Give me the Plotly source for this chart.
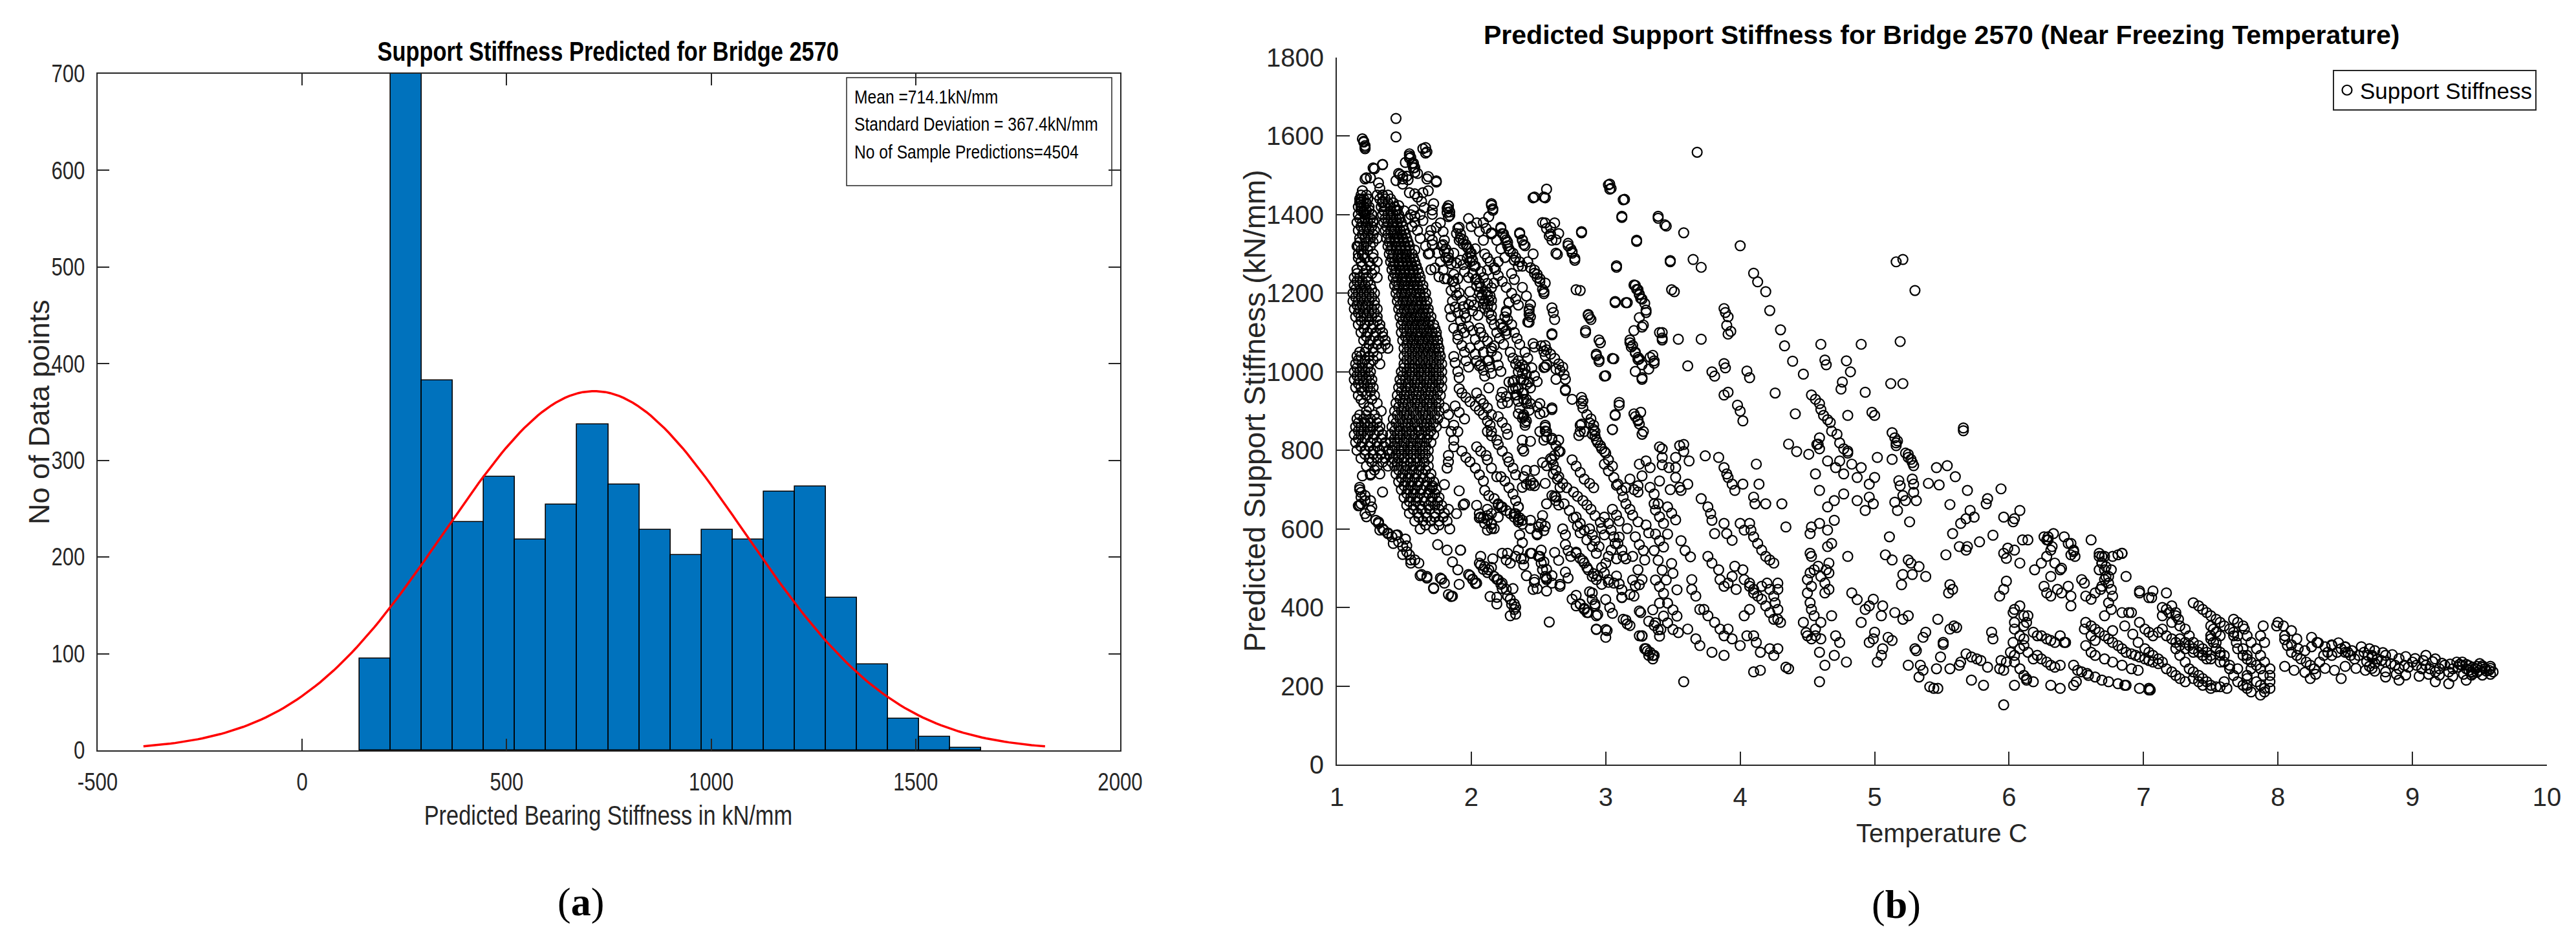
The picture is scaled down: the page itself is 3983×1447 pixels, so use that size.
import numpy as np
import plotly.graph_objects as go

W, H = 3983, 1447
SANS = "Liberation Sans, Arial, sans-serif"
SERIF = "Liberation Serif, DejaVu Serif, serif"
AX = "#262626"

# ---------------- histogram data (panel a) ----------------
hist_bin_start = 140.5
hist_bin_width = 76.0
hist_counts = [95, 709, 383, 236, 283, 218, 254, 337, 275, 228, 202, 228, 218, 268, 273, 158, 89, 33, 14, 3]
fit_mean = 714.1
fit_sd = 367.4
n_samples = 4504
hist_xticks = [-500, 0, 500, 1000, 1500, 2000]
hist_xticklabels = ["-500", "0", "500", "1000", "1500", "2000"]
hist_yticks = [0, 100, 200, 300, 400, 500, 600, 700]
stats_lines = ["Mean =714.1kN/mm", "Standard Deviation = 367.4kN/mm", "No of Sample Predictions=4504"]

# ---------------- scatter data (panel b): (temperature C, stiffness kN/mm) ----------------
dense_rows = [
    (1450, [1.18, 1.22, 1.30, 1.34, 1.38]),
    (1440, [1.17, 1.20, 1.23, 1.32, 1.36, 1.40]),
    (1430, [1.18, 1.22, 1.34, 1.38, 1.42]),
    (1420, [1.16, 1.20, 1.24, 1.33, 1.36, 1.40, 1.43]),
    (1410, [1.18, 1.22, 1.35, 1.40, 1.44, 1.50]),
    (1400, [1.16, 1.21, 1.26, 1.34, 1.38, 1.42, 1.46, 1.55, 1.62]),
    (1390, [1.17, 1.21, 1.25, 1.36, 1.40, 1.44, 1.47, 1.53]),
    (1380, [1.15, 1.19, 1.23, 1.27, 1.35, 1.38, 1.42, 1.45, 1.48, 1.58]),
    (1370, [1.18, 1.22, 1.26, 1.37, 1.41, 1.45, 1.49, 1.56]),
    (1360, [1.16, 1.20, 1.24, 1.28, 1.36, 1.40, 1.43, 1.47, 1.50, 1.60, 1.70]),
    (1350, [1.19, 1.23, 1.27, 1.38, 1.42, 1.45, 1.48, 1.51]),
    (1340, [1.17, 1.21, 1.25, 1.30, 1.37, 1.40, 1.43, 1.46, 1.49, 1.52, 1.62]),
    (1330, [1.17, 1.22, 1.27, 1.39, 1.43, 1.46, 1.50, 1.53]),
    (1320, [1.15, 1.20, 1.25, 1.38, 1.41, 1.44, 1.48, 1.51, 1.54, 1.66]),
    (1310, [1.18, 1.23, 1.40, 1.44, 1.47, 1.51, 1.54, 1.58]),
    (1300, [1.16, 1.20, 1.27, 1.39, 1.42, 1.46, 1.49, 1.52, 1.56, 1.68]),
    (1290, [1.16, 1.21, 1.27, 1.41, 1.45, 1.48, 1.51, 1.54, 1.57]),
    (1280, [1.18, 1.24, 1.30, 1.40, 1.43, 1.46, 1.49, 1.52, 1.55, 1.58]),
    (1270, [1.19, 1.25, 1.42, 1.46, 1.49, 1.53, 1.56, 1.59]),
    (1260, [1.15, 1.22, 1.28, 1.41, 1.44, 1.47, 1.51, 1.54, 1.57, 1.60, 1.70]),
    (1250, [1.15, 1.20, 1.26, 1.43, 1.47, 1.50, 1.54, 1.57, 1.61]),
    (1240, [1.13, 1.17, 1.22, 1.30, 1.42, 1.45, 1.49, 1.52, 1.55, 1.59, 1.62]),
    (1230, [1.15, 1.19, 1.23, 1.44, 1.48, 1.51, 1.55, 1.58, 1.62]),
    (1220, [1.13, 1.17, 1.21, 1.25, 1.43, 1.46, 1.50, 1.53, 1.57, 1.60, 1.64]),
    (1210, [1.14, 1.18, 1.22, 1.26, 1.45, 1.49, 1.53, 1.57, 1.61, 1.64]),
    (1200, [1.12, 1.16, 1.20, 1.24, 1.28, 1.44, 1.48, 1.51, 1.55, 1.59, 1.62, 1.66]),
    (1190, [1.14, 1.18, 1.22, 1.26, 1.46, 1.50, 1.54, 1.58, 1.62, 1.65]),
    (1180, [1.12, 1.16, 1.20, 1.24, 1.28, 1.45, 1.49, 1.52, 1.56, 1.60, 1.63, 1.67]),
    (1170, [1.15, 1.19, 1.23, 1.28, 1.47, 1.51, 1.55, 1.59, 1.63, 1.66]),
    (1160, [1.13, 1.17, 1.21, 1.26, 1.30, 1.46, 1.50, 1.54, 1.57, 1.61, 1.65, 1.68]),
    (1150, [1.16, 1.20, 1.24, 1.28, 1.48, 1.52, 1.56, 1.60, 1.64, 1.68]),
    (1140, [1.14, 1.18, 1.22, 1.26, 1.30, 1.47, 1.51, 1.55, 1.59, 1.62, 1.66, 1.70]),
    (1130, [1.18, 1.24, 1.30, 1.49, 1.53, 1.57, 1.61, 1.65, 1.69]),
    (1120, [1.16, 1.21, 1.27, 1.32, 1.48, 1.52, 1.56, 1.60, 1.64, 1.68, 1.72]),
    (1110, [1.20, 1.26, 1.32, 1.50, 1.54, 1.58, 1.62, 1.65, 1.69, 1.73]),
    (1100, [1.18, 1.23, 1.29, 1.34, 1.48, 1.52, 1.56, 1.60, 1.63, 1.67, 1.71, 1.74]),
    (1090, [1.22, 1.28, 1.34, 1.51, 1.55, 1.59, 1.62, 1.66, 1.70, 1.74]),
    (1080, [1.20, 1.25, 1.31, 1.36, 1.49, 1.53, 1.57, 1.61, 1.64, 1.68, 1.72, 1.75]),
    (1070, [1.24, 1.30, 1.36, 1.52, 1.56, 1.59, 1.63, 1.67, 1.71, 1.75]),
    (1060, [1.22, 1.27, 1.33, 1.38, 1.50, 1.54, 1.58, 1.61, 1.65, 1.69, 1.73, 1.76]),
    (1050, [1.17, 1.21, 1.27, 1.52, 1.56, 1.60, 1.64, 1.68, 1.72, 1.76]),
    (1040, [1.15, 1.18, 1.24, 1.30, 1.50, 1.54, 1.58, 1.62, 1.66, 1.70, 1.74, 1.77]),
    (1030, [1.16, 1.21, 1.27, 1.52, 1.56, 1.60, 1.64, 1.68, 1.72, 1.76]),
    (1020, [1.14, 1.19, 1.24, 1.32, 1.50, 1.54, 1.58, 1.62, 1.66, 1.70, 1.74, 1.78]),
    (1010, [1.15, 1.19, 1.23, 1.50, 1.54, 1.58, 1.63, 1.67, 1.72, 1.76]),
    (1000, [1.13, 1.17, 1.21, 1.25, 1.48, 1.52, 1.56, 1.61, 1.65, 1.69, 1.74, 1.78]),
    (990, [1.15, 1.19, 1.24, 1.49, 1.54, 1.58, 1.63, 1.67, 1.72, 1.76]),
    (980, [1.13, 1.17, 1.22, 1.26, 1.47, 1.51, 1.56, 1.60, 1.65, 1.69, 1.74, 1.78]),
    (970, [1.16, 1.20, 1.25, 1.48, 1.53, 1.58, 1.62, 1.67, 1.71, 1.76]),
    (960, [1.14, 1.18, 1.23, 1.27, 1.46, 1.51, 1.55, 1.60, 1.64, 1.69, 1.73, 1.78]),
    (950, [1.19, 1.25, 1.48, 1.52, 1.57, 1.61, 1.66, 1.70, 1.75]),
    (940, [1.16, 1.22, 1.28, 1.45, 1.50, 1.54, 1.59, 1.63, 1.68, 1.72, 1.77]),
    (930, [1.18, 1.26, 1.47, 1.51, 1.56, 1.60, 1.65, 1.69, 1.74]),
    (920, [1.20, 1.30, 1.44, 1.49, 1.53, 1.58, 1.62, 1.67, 1.71, 1.76]),
    (910, [1.24, 1.46, 1.50, 1.55, 1.60, 1.64, 1.69, 1.74]),
    (900, [1.22, 1.33, 1.43, 1.48, 1.52, 1.57, 1.62, 1.66, 1.71, 1.76]),
    (890, [1.17, 1.22, 1.28, 1.45, 1.50, 1.54, 1.59, 1.64, 1.68, 1.73]),
    (880, [1.15, 1.20, 1.25, 1.30, 1.42, 1.47, 1.52, 1.56, 1.61, 1.66, 1.70, 1.75]),
    (870, [1.16, 1.21, 1.25, 1.30, 1.44, 1.49, 1.53, 1.58, 1.63, 1.67, 1.72]),
    (860, [1.14, 1.18, 1.23, 1.27, 1.32, 1.41, 1.46, 1.51, 1.55, 1.60, 1.65, 1.69, 1.74]),
    (850, [1.16, 1.20, 1.25, 1.31, 1.43, 1.47, 1.52, 1.56, 1.61, 1.66, 1.70]),
    (840, [1.13, 1.18, 1.23, 1.28, 1.34, 1.40, 1.45, 1.49, 1.54, 1.58, 1.63, 1.68, 1.72]),
    (830, [1.16, 1.21, 1.27, 1.33, 1.43, 1.47, 1.52, 1.57, 1.62, 1.67]),
    (820, [1.14, 1.19, 1.25, 1.30, 1.36, 1.40, 1.45, 1.50, 1.55, 1.60, 1.65, 1.70]),
    (810, [1.18, 1.24, 1.30, 1.35, 1.43, 1.48, 1.53, 1.57, 1.62, 1.66]),
    (800, [1.15, 1.21, 1.27, 1.32, 1.38, 1.41, 1.46, 1.50, 1.55, 1.59, 1.64, 1.68]),
    (790, [1.21, 1.27, 1.33, 1.39, 1.44, 1.48, 1.53, 1.57, 1.62, 1.66]),
    (780, [1.18, 1.24, 1.30, 1.36, 1.42, 1.46, 1.50, 1.55, 1.59, 1.64, 1.68]),
    (770, [1.26, 1.34, 1.41, 1.45, 1.50, 1.55, 1.60, 1.65]),
    (760, [1.22, 1.30, 1.38, 1.43, 1.48, 1.52, 1.57, 1.62, 1.68]),
    (750, [1.28, 1.46, 1.51, 1.56, 1.61, 1.66]),
    (740, [1.25, 1.32, 1.44, 1.49, 1.54, 1.59, 1.64, 1.70]),
    (730, [1.48, 1.53, 1.58, 1.64, 1.69]),
    (720, [1.46, 1.51, 1.56, 1.61, 1.67, 1.72]),
    (710, [1.50, 1.55, 1.60, 1.66, 1.71]),
    (700, [1.48, 1.53, 1.58, 1.63, 1.69, 1.74]),
    (690, [1.52, 1.57, 1.62, 1.68, 1.73]),
    (680, [1.50, 1.55, 1.60, 1.65, 1.71, 1.76]),
    (670, [1.54, 1.59, 1.65, 1.70, 1.75]),
    (660, [1.52, 1.57, 1.62, 1.68, 1.73, 1.78]),
    (650, [1.57, 1.63, 1.69, 1.76]),
    (640, [1.54, 1.60, 1.66, 1.73, 1.80]),
    (630, [1.61, 1.67, 1.73, 1.79]),
    (620, [1.58, 1.64, 1.70, 1.76, 1.82]),
    (610, [1.66, 1.76]),
    (600, [1.62, 1.72, 1.84]),
]

pts_upper_left = [
    (1.44, 1645), (1.44, 1598), (1.19, 1593), (1.20, 1585), (1.21, 1576), (1.21, 1568), (1.66, 1571), (1.67, 1560),
    (1.54, 1555), (1.54, 1544), (1.56, 1530), (1.57, 1519), (1.58, 1508), (1.51, 1533), (1.47, 1502), (1.49, 1491),
    (1.53, 1489), (1.49, 1478), (1.34, 1527), (1.27, 1519), (1.22, 1494), (1.25, 1494), (1.68, 1497), (1.74, 1486),
    (1.31, 1481), (1.32, 1467), (1.34, 1450), (1.34, 1434), (1.19, 1461), (1.18, 1439), (1.18, 1423), (1.20, 1407),
    (1.21, 1390), (1.22, 1428), (1.24, 1412), (1.26, 1401), (1.27, 1385), (1.54, 1456), (1.58, 1453), (1.60, 1445),
    (1.64, 1456), (1.68, 1461), (1.63, 1434), (1.65, 1418), (1.72, 1428), (1.71, 1412), (1.71, 1401), (1.74, 1368),
    (1.57, 1412), (1.58, 1396), (1.46, 1423), (1.45, 1412), (1.64, 1385), (1.83, 1423), (1.83, 1415), (1.84, 1407),
    (1.84, 1398), (1.91, 1368), (1.89, 1352), (1.91, 1335), (1.69, 1346), (1.71, 1335), (1.71, 1324), (1.69, 1302),
    (1.79, 1324), (1.81, 1313), (1.83, 1302), (1.83, 1291), (1.85, 1275), (1.87, 1302), (1.89, 1277), (1.96, 1324),
    (1.98, 1313), (1.99, 1302), (2.00, 1291), (1.99, 1280), (2.02, 1269), (2.03, 1313), (1.73, 1264), (1.76, 1242),
    (1.80, 1237), (1.82, 1237), (1.85, 1207), (1.90, 1237), (1.91, 1201), (1.77, 1379), (1.79, 1357), (1.80, 1335),
    (1.75, 1302), (1.77, 1280), (1.79, 1259), (1.87, 1248), (1.87, 1231), (1.88, 1215), (1.93, 1182), (1.94, 1166),
    (1.95, 1149), (1.96, 1138), (1.16, 1319), (1.19, 1297),
    (1.86, 1180), (1.88, 1165), (1.90, 1150), (1.92, 1130), (1.85, 1140), (1.84, 1160), (1.86, 1230), (1.89, 1195),
]

pts_second_band = [
    (2.04, 1237), (2.06, 1226), (2.07, 1215), (2.11, 1204), (2.12, 1259), (2.17, 1226), (2.14, 1193), (2.15, 1182),
    (2.12, 1166), (1.99, 1204), (1.98, 1171), (2.01, 1155), (2.05, 1144), (2.15, 1144), (2.15, 1133), (2.15, 1428),
    (2.16, 1415), (2.22, 1368), (2.23, 1352), (2.25, 1341), (2.27, 1330), (2.28, 1313), (2.31, 1302), (2.33, 1291),
    (2.36, 1280), (2.38, 1269), (2.15, 1354), (2.36, 1354), (2.38, 1335), (2.39, 1324), (2.47, 1259), (2.49, 1248),
    (2.51, 1237), (2.55, 1226), (2.54, 1204), (2.28, 1176), (2.26, 1155), (2.25, 1140), (2.22, 1122), (2.23, 1111),
    (2.26, 1105), (2.06, 1111), (2.07, 1100), (2.09, 1089), (2.12, 1078), (2.15, 1061), (2.19, 1039), (2.20, 1017),
    (2.22, 1001), (1.99, 1061), (2.03, 1045), (2.04, 1028), (2.06, 1015), (1.93, 1111), (1.95, 1100), (1.87, 1111),
    (1.90, 1094), (2.35, 1028), (2.36, 1012), (2.38, 996), (2.39, 979), (2.41, 968), (2.39, 946), (2.41, 930),
    (2.44, 919), (2.28, 974), (2.31, 957), (2.33, 941), (2.35, 925), (2.36, 908), (2.22, 935), (2.23, 919),
    (2.51, 919), (2.54, 897), (2.60, 908), (2.39, 891), (2.41, 875), (2.40, 864), (2.55, 864), (2.56, 848),
    (1.96, 1138), (1.98, 1116), (2.01, 1105), (2.03, 1083), (2.06, 1067), (2.09, 1050), (2.12, 1028), (2.14, 1012),
    (2.15, 996), (1.90, 1083), (1.93, 1067), (1.95, 1050), (1.96, 1028), (1.98, 1012), (1.87, 1039), (1.88, 1023),
    (1.90, 1001), (1.91, 985), (1.91, 957), (1.93, 946), (1.96, 935), (1.99, 924), (2.03, 913), (2.06, 902),
    (2.09, 891), (2.12, 875), (2.14, 864), (2.15, 848), (2.04, 946), (2.07, 930), (2.09, 919), (2.12, 908),
    (2.15, 891), (2.31, 974), (2.35, 957), (2.38, 946), (2.39, 930), (2.41, 919), (2.43, 902), (2.39, 886),
    (1.88, 913), (1.91, 897), (1.95, 880), (1.80, 908), (1.83, 891), (1.87, 864), (1.90, 848), (2.04, 1379),
    (2.06, 1357), (2.09, 1335), (2.19, 1335), (2.22, 1313), (2.25, 1291), (2.38, 1215), (2.41, 1193), (2.44, 1171),
    (2.43, 1160), (2.43, 1146), (2.42, 1127), (2.46, 1072), (2.15, 1424), (2.16, 1411), (2.15, 1351), (2.22, 1365),
    (2.24, 1351), (2.26, 1336), (2.27, 1321), (2.29, 1306), (2.32, 1284), (2.35, 1269), (2.36, 1351), (2.38, 1336),
    (2.40, 1321), (2.04, 1218), (2.06, 1203), (2.07, 1188), (2.09, 1174), (2.10, 1162), (2.07, 1255), (2.09, 1240),
    (2.12, 1225), (2.15, 1214), (2.12, 1196), (2.13, 1181), (2.15, 1166), (1.97, 1317), (2.00, 1302), (2.01, 1284),
    (2.03, 1269), (1.92, 1284), (1.94, 1273), (1.82, 1417), (1.82, 1406), (1.83, 1395), (1.90, 1365), (1.92, 1351),
    (1.94, 1336), (1.78, 1321), (1.80, 1306), (1.81, 1291), (1.83, 1284), (1.74, 1483), (1.67, 1491), (1.64, 1568),
    (1.66, 1557), (1.55, 1546), (1.57, 1531), (1.58, 1520), (1.60, 1505), (1.54, 1550), (1.49, 1498), (1.52, 1498),
    (1.46, 1505), (1.44, 1487), (1.20, 1587), (1.21, 1572), (1.34, 1528), (1.28, 1517), (1.21, 1491), (1.17, 1432),
    (1.18, 1417), (1.20, 1406), (2.26, 1151), (2.27, 1133), (2.28, 1177), (2.24, 1114), (2.26, 1096), (2.38, 1018),
    (2.40, 1007), (2.41, 993), (2.43, 974), (2.44, 959), (2.35, 1000), (2.37, 981), (2.32, 978), (2.33, 959),
    (2.34, 941), (2.23, 948), (2.26, 937), (2.27, 922), (2.13, 959), (2.35, 893), (2.38, 882), (2.40, 871),
    (2.49, 911), (2.51, 893), (2.60, 904), (2.55, 849), (2.56, 834), (2.60, 827), (2.63, 812), (2.66, 797),
    (2.44, 823), (2.38, 804), (2.20, 886), (2.23, 871), (2.26, 856), (2.27, 841), (2.07, 1018), (2.09, 1004),
    (2.10, 989), (2.13, 1029), (2.15, 1052), (2.17, 1066),
    (1.92, 1340), (1.94, 1325), (1.97, 1290), (2.01, 1250), (2.03, 1235), (2.08, 1195), (2.10, 1180), (2.13, 1150),
    (2.17, 1120), (2.19, 1100), (2.21, 1085), (2.24, 1070), (2.29, 1050), (2.31, 1035), (2.33, 1020), (2.30, 1120),
    (2.32, 1100), (2.34, 1085), (2.36, 1070), (2.40, 1050), (2.42, 1035), (2.45, 1010), (2.47, 990), (2.49, 975),
    (2.18, 1260), (2.20, 1245), (2.23, 1230), (2.26, 1215), (2.30, 1200), (2.33, 1185), (2.35, 1170), (2.30, 1250),
    (2.32, 1235), (2.42, 1280), (2.44, 1265), (2.46, 1300), (2.00, 1180), (2.02, 1170), (1.98, 1240), (1.95, 1255),
    (2.10, 1300), (2.12, 1290), (2.14, 1280), (2.17, 1265), (2.20, 1280), (2.09, 1380), (2.11, 1365), (2.13, 1395),
    (1.98, 1390), (2.00, 1370),
]

pts_upper_mid = [
    (2.46, 1443), (2.55, 1443), (2.56, 1465), (2.53, 1380), (2.56, 1365), (2.59, 1351), (2.63, 1336), (2.64, 1299),
    (2.72, 1321), (2.75, 1306), (2.77, 1284), (2.82, 1354), (3.02, 1476), (3.03, 1465), (3.13, 1438), (3.12, 1393),
    (3.23, 1332), (3.08, 1266), (3.39, 1391), (3.45, 1371), (3.58, 1354), (3.48, 1280), (3.65, 1286), (3.71, 1266),
    (3.68, 1559), (4.00, 1321), (4.10, 1251), (4.13, 1229), (4.19, 1204), (4.22, 1156), (4.30, 1107), (4.33, 1066),
    (4.39, 1027), (4.47, 994), (4.26, 946), (4.41, 893), (3.51, 1204), (3.54, 1083), (3.71, 1083), (3.61, 1015),
    (3.42, 1100), (3.42, 1081), (3.88, 1161), (3.89, 1151), (3.91, 1140), (3.90, 1118), (3.93, 1103), (3.91, 1096),
    (3.88, 1021), (3.89, 1010), (3.88, 941), (3.91, 948), (3.98, 915), (4.00, 900), (4.02, 875), (4.05, 1002),
    (4.07, 985), (3.79, 1000), (3.81, 989), (4.60, 1070), (4.63, 1030), (4.64, 1018), (4.79, 1028), (4.82, 1000),
    (4.90, 1070), (4.76, 974), (4.75, 956), (4.93, 948), (4.98, 897), (5.00, 889), (4.53, 941), (4.56, 930),
    (4.59, 919), (4.60, 904), (4.62, 889), (4.65, 878), (4.67, 871), (4.68, 849), (4.72, 841), (4.74, 819),
    (4.77, 804), (4.80, 793), (4.58, 816), (4.59, 804), (4.36, 816), (4.42, 797), (4.80, 889), (3.55, 812),
    (3.58, 797), (3.42, 804), (2.81, 1207), (2.87, 1144), (2.89, 1133), (2.85, 1100), (2.95, 1081), (2.96, 1074),
    (2.93, 1041), (2.95, 1026), (3.06, 1033), (2.99, 989), (3.07, 1176), (3.15, 1176), (3.21, 1221), (3.23, 1210),
    (3.25, 1196), (3.27, 1185), (3.29, 1174), (3.30, 1151), (3.27, 1114), (3.18, 1074), (3.19, 1063), (3.22, 1048),
    (3.25, 1033), (3.27, 1018), (3.27, 981), (3.33, 1037), (3.36, 1022), (3.10, 915), (3.07, 889), (3.21, 893),
    (3.24, 878), (3.25, 867), (3.27, 841), (2.90, 841), (2.93, 827), (2.96, 812), (2.99, 797), (2.83, 926),
    (2.83, 908), (2.80, 838), (2.70, 952), (2.47, 1063), (2.52, 1066), (2.54, 1052), (2.55, 1041), (2.60, 1163),
    (2.61, 1151), (2.62, 1133), (2.60, 1094), (2.54, 1011), (2.56, 1018), (2.63, 1007), (2.66, 1004), (2.69, 993),
    (2.70, 981), (2.63, 981), (2.47, 1251), (2.49, 1240), (2.51, 1229), (2.53, 1210), (2.54, 1199), (2.43, 1155),
    (2.44, 1140), (2.43, 1126), (2.47, 1445), (2.54, 1445), (2.55, 1379), (2.59, 1368), (2.62, 1379), (2.65, 1352),
    (2.60, 1335), (2.58, 1346), (2.63, 1302), (2.72, 1327), (2.74, 1313), (2.75, 1302), (2.77, 1289), (2.82, 1357),
    (2.78, 1209), (3.03, 1478), (3.04, 1467), (3.14, 1439), (3.12, 1396), (3.23, 1335), (3.08, 1270), (3.39, 1396),
    (3.44, 1374), (3.48, 1283), (3.49, 1209), (3.22, 1220), (3.24, 1209), (3.25, 1198), (3.26, 1187), (3.07, 1179),
    (3.16, 1176), (3.30, 1157), (3.25, 1138), (3.28, 1119), (3.21, 1105), (3.18, 1081), (3.20, 1067), (3.22, 1050),
    (3.24, 1037), (3.24, 1031), (3.40, 1100), (3.42, 1086), (3.35, 1042), (3.36, 1028), (3.32, 1007), (3.22, 1001),
    (3.27, 985), (2.87, 1146), (2.88, 1138), (2.85, 1105), (2.93, 1045), (2.95, 1031), (3.05, 1034), (3.00, 990),
    (2.55, 1067), (2.56, 1056), (2.59, 1045), (2.62, 1034), (2.65, 1020), (2.68, 1012), (2.55, 1012), (2.60, 1097),
    (2.70, 955), (2.75, 930), (2.82, 935), (2.82, 919), (2.86, 891), (2.89, 880), (2.91, 864), (2.92, 848),
    (2.82, 867), (2.81, 848), (3.07, 891), (3.10, 922), (3.05, 853), (3.22, 886), (3.24, 875), (3.26, 897),
    (3.28, 848), (5.16, 1280), (5.21, 1286), (5.30, 1207), (5.19, 1077), (5.12, 970), (5.21, 970), (5.66, 850),
    (5.13, 845), (5.16, 819), (5.16, 812), (5.23, 793), (5.25, 782),
]

pts_lower_left = [
    (1.19, 735), (1.25, 737), (1.17, 700), (1.18, 681), (1.16, 659), (1.21, 672), (1.26, 656), (1.22, 631),
    (1.31, 618), (1.34, 601), (1.38, 590), (1.42, 563), (1.45, 585), (1.49, 535), (1.51, 574), (1.52, 557),
    (1.55, 513), (1.62, 481), (1.67, 475), (1.72, 448), (1.78, 472), (1.85, 428), (1.75, 560), (1.82, 546),
    (1.86, 516), (1.92, 546), (1.83, 650), (1.89, 639), (1.94, 661), (1.91, 697), (1.80, 713), (1.71, 705),
    (1.34, 694), (1.91, 459), (1.99, 481), (2.01, 472), (2.03, 461), (2.07, 508), (2.09, 497), (2.12, 489),
    (2.15, 502), (2.16, 524), (2.19, 472), (2.22, 459), (2.23, 448), (2.19, 426), (2.19, 409), (2.14, 428),
    (2.31, 448), (2.32, 409), (2.33, 401), (2.29, 379), (2.06, 628), (2.12, 634), (2.15, 612), (2.15, 601),
    (2.58, 363), (2.36, 628), (2.38, 612), (2.36, 585), (2.38, 565), (2.35, 546), (2.37, 524), (2.39, 508),
    (2.41, 481), (2.44, 601), (2.49, 585), (2.54, 596), (2.55, 607), (2.53, 634), (2.45, 538), (2.51, 530),
    (2.54, 516), (2.56, 497), (2.56, 475), (2.60, 481), (2.66, 459), (2.47, 464), (2.49, 448), (2.56, 442),
    (2.27, 538), (2.33, 530), (2.39, 524), (2.33, 639), (2.35, 623), (2.60, 831), (2.65, 826), (2.65, 798),
    (2.62, 787), (2.60, 776), (2.54, 826), (2.55, 859), (2.51, 848), (2.59, 779), (2.61, 763), (2.63, 749),
    (2.65, 733), (2.68, 716), (2.71, 705), (2.76, 694), (2.79, 683), (2.83, 672), (2.86, 661), (2.89, 650),
    (2.92, 634), (2.96, 617), (2.97, 601), (2.99, 585), (2.75, 776), (2.78, 760), (2.81, 744), (2.84, 727),
    (2.88, 716), (2.91, 705), (2.81, 864), (2.84, 848), (2.88, 870), (2.91, 853), (2.92, 837), (2.94, 820),
    (2.97, 804), (3.00, 793), (3.02, 776), (3.05, 760), (3.05, 853), (3.08, 711), (3.15, 705), (3.18, 727),
    (3.24, 694), (3.21, 700), (3.24, 618), (3.16, 601), (3.10, 579), (3.07, 563), (3.04, 546), (3.02, 530),
    (3.08, 524), (3.15, 524), (3.20, 530), (3.00, 513), (2.97, 502), (3.02, 464), (2.76, 628), (2.79, 607),
    (2.81, 590), (2.78, 541), (2.83, 519), (2.86, 502), (2.91, 486), (2.94, 481), (2.97, 459), (2.78, 431),
    (2.81, 409), (2.84, 398), (2.87, 387), (2.92, 409), (2.94, 382), (3.12, 426), (3.15, 368), (3.18, 354),
    (2.93, 344), (3.00, 344), (3.00, 324), (3.27, 327), (3.31, 289), (3.35, 278), (3.26, 387), (3.32, 365),
    (3.36, 354), (3.39, 343), (3.40, 327), (3.40, 809), (3.42, 763), (3.40, 722), (3.48, 700), (1.80, 870),
    (1.85, 848), (1.87, 826), (1.87, 809), (1.83, 787), (1.83, 771), (1.82, 755), (1.93, 798), (1.96, 782),
    (1.99, 771), (2.03, 755), (2.06, 738), (2.09, 722), (2.04, 809), (2.07, 798), (2.11, 787), (2.12, 776),
    (2.15, 755), (2.19, 733), (2.12, 848), (2.15, 837), (2.19, 826), (2.20, 815), (2.23, 798), (2.27, 782),
    (2.28, 771), (2.31, 755), (2.33, 738), (2.38, 826), (2.39, 798), (2.41, 749), (2.39, 733), (2.47, 749),
    (2.55, 716), (2.44, 711), (2.46, 716), (2.62, 683), (2.63, 672), (2.65, 661), (2.22, 733), (2.25, 722),
    (2.28, 705), (2.31, 689), (2.33, 672), (2.35, 656), (2.06, 639), (2.09, 628), (2.12, 623), (2.15, 612),
    (2.17, 601), (2.20, 661), (2.22, 656), (2.12, 650), (2.15, 639), (1.17, 706), (1.18, 693), (1.21, 685),
    (1.25, 672), (1.18, 664), (1.17, 660), (1.21, 639), (1.25, 647), (1.29, 622), (1.31, 614), (1.32, 597),
    (1.35, 597), (1.38, 588), (1.41, 580), (1.44, 584), (1.46, 567), (1.49, 555), (1.52, 542), (1.54, 534),
    (1.55, 521), (1.58, 521), (1.61, 513), (1.63, 484), (1.67, 479), (1.72, 450), (1.77, 475), (1.83, 433),
    (1.86, 429), (1.80, 462), (1.90, 496), (1.92, 546), (1.98, 484), (2.01, 471), (2.04, 462), (2.07, 530),
    (2.06, 513), (2.10, 504), (2.13, 496), (2.17, 479), (2.20, 471), (2.23, 462), (2.26, 446), (2.27, 429),
    (2.29, 421), (2.30, 408), (2.32, 395), (2.33, 383), (2.23, 538), (2.26, 521), (2.29, 513), (2.50, 530),
    (2.52, 513), (2.53, 496), (2.55, 479), (2.56, 471), (2.60, 462), (2.44, 538), (2.46, 446), (2.47, 471),
    (2.52, 546), (2.66, 454), (2.75, 421), (2.78, 404), (2.81, 408), (2.84, 395), (2.86, 387), (2.78, 538),
    (2.81, 525), (2.84, 513), (2.87, 496), (2.90, 479), (2.93, 471), (2.92, 404), (2.93, 379), (2.90, 437),
    (2.93, 345), (3.01, 341), (2.99, 488), (3.02, 471), (3.06, 462), (3.12, 425), (3.13, 370), (3.16, 358),
    (3.25, 391), (3.27, 328), (3.29, 295), (3.33, 286), (3.36, 278), (3.25, 458), (3.27, 471), (3.24, 496),
    (3.29, 521), (3.18, 433), (3.21, 429), (2.41, 714), (2.44, 723), (2.47, 710), (2.38, 706), (2.53, 769),
    (2.56, 761), (2.61, 740), (2.64, 727), (2.66, 706), (2.60, 685), (2.56, 664), (2.63, 681), (2.69, 664),
    (2.73, 647), (2.78, 630), (2.81, 614), (2.84, 597), (2.86, 572), (2.90, 555), (2.93, 538), (2.07, 630),
    (2.10, 614), (2.12, 597), (2.15, 614), (2.20, 630), (2.04, 660), (1.95, 664), (2.38, 622), (2.44, 622),
    (2.50, 605), (2.49, 588), (2.52, 614), (2.35, 656), (2.32, 639), (2.10, 698), (2.13, 685), (2.17, 677),
    (2.20, 664), (2.23, 656), (2.26, 647), (2.29, 639), (2.32, 630), (2.35, 618), (2.99, 630), (3.02, 614),
    (3.04, 597), (3.06, 580), (3.09, 563), (3.12, 546), (3.13, 530), (2.99, 765), (3.02, 748), (3.06, 731),
    (3.09, 714), (3.12, 698), (3.13, 681), (3.15, 664), (3.25, 765), (3.27, 735), (3.24, 710),
    (2.70, 560), (2.72, 545), (2.74, 530), (2.68, 600), (2.70, 585), (2.88, 600), (2.90, 585), (2.92, 570),
    (2.95, 555), (3.05, 650), (3.08, 635), (3.10, 620), (3.18, 650), (3.20, 635), (3.22, 580), (3.25, 560),
    (3.28, 545), (3.30, 610), (3.32, 590), (2.65, 520), (2.62, 540), (2.70, 490), (2.72, 475), (3.08, 480),
    (3.10, 460), (3.12, 445), (3.20, 470), (3.22, 455), (2.88, 440), (2.90, 420), (3.00, 420), (3.03, 400),
    (3.05, 385),
]

pts_mid_right = [
    (3.36, 664), (3.37, 648), (3.40, 631), (3.43, 614), (3.46, 656), (3.49, 640), (3.52, 623), (3.37, 587),
    (3.40, 570), (3.43, 554), (3.46, 587), (3.36, 545), (3.39, 520), (3.42, 495), (3.45, 470), (3.37, 470),
    (3.40, 453), (3.43, 436), (3.49, 512), (3.50, 487), (3.53, 445), (3.46, 411), (3.50, 394), (3.53, 378),
    (3.40, 411), (3.43, 378), (3.46, 361), (3.50, 344), (3.54, 336), (3.37, 361), (3.41, 344), (3.35, 394),
    (3.56, 570), (3.59, 545), (3.63, 529), (3.30, 295), (3.32, 278), (3.35, 269), (3.25, 328), (3.58, 211),
    (3.61, 345), (3.67, 320), (3.70, 303), (3.64, 471), (3.64, 446), (3.67, 429), (3.62, 773), (3.58, 815),
    (3.52, 782), (3.52, 756), (3.61, 714), (3.56, 698), (3.71, 677), (3.76, 656), (3.78, 639), (3.79, 622),
    (3.74, 786), (3.84, 782), (3.88, 756), (3.90, 740), (3.91, 731), (3.94, 714), (3.96, 698), (4.02, 714),
    (3.81, 588), (3.88, 614), (3.90, 588), (3.94, 571), (4.00, 614), (4.03, 597), (3.76, 530), (3.79, 513),
    (3.84, 496), (3.85, 471), (3.88, 454), (3.91, 462), (3.94, 479), (3.97, 446), (3.96, 505), (3.70, 395),
    (3.73, 395), (3.76, 379), (3.81, 362), (3.85, 345), (3.88, 328), (3.79, 286), (3.88, 278), (3.91, 345),
    (3.94, 320), (4.00, 303), (4.05, 328), (4.03, 379), (4.07, 395), (4.02, 496), (4.03, 471), (4.07, 454),
    (4.10, 437), (4.16, 421), (4.19, 404), (4.22, 387), (4.25, 370), (4.07, 614), (4.08, 597), (4.10, 580),
    (4.13, 563), (4.16, 546), (4.19, 530), (4.22, 521), (4.25, 513), (4.10, 681), (4.11, 664), (4.14, 714),
    (4.12, 765), (4.19, 664), (4.07, 462), (4.10, 446), (4.13, 429), (4.16, 454), (4.20, 462), (4.22, 446),
    (4.25, 429), (4.28, 446), (4.28, 462), (4.26, 412), (4.28, 395), (4.28, 370), (4.30, 362), (4.10, 328),
    (4.12, 311), (4.15, 286), (4.22, 295), (4.28, 295), (4.10, 236), (4.15, 240), (4.25, 278), (4.34, 248),
    (4.36, 244), (4.31, 664), (4.34, 605), (4.47, 362), (4.49, 336), (4.50, 328), (4.53, 320), (4.56, 328),
    (4.56, 345), (4.55, 379), (4.53, 395), (4.52, 412), (4.50, 437), (4.53, 454), (4.50, 471), (4.52, 488),
    (4.55, 496), (4.58, 505), (4.60, 479), (4.63, 462), (4.66, 446), (4.63, 437), (4.66, 488), (4.66, 513),
    (4.64, 496), (4.63, 253), (4.59, 211), (4.60, 362), (4.60, 320), (4.59, 286), (4.53, 530), (4.52, 538),
    (4.52, 588), (4.53, 605), (4.59, 614), (4.65, 597), (4.70, 622), (4.65, 656), (4.59, 698), (4.56, 740),
    (4.51, 790), (4.57, 815), (4.59, 832), (4.65, 773), (4.71, 756), (4.74, 773), (4.77, 740), (4.80, 798),
    (4.70, 672), (4.77, 689), (4.65, 555), (4.68, 563), (4.68, 379), (4.71, 328), (4.74, 311), (4.70, 278),
    (4.79, 261), (4.80, 530), (4.83, 437), (4.87, 420), (4.90, 362), (4.93, 395), (4.96, 404), (4.99, 421),
    (4.87, 672), (4.93, 647), (4.96, 681), (4.96, 714), (4.99, 664), (5.00, 731), (5.02, 782), (4.90, 756),
    (4.83, 765), (4.87, 731), (4.96, 311), (5.02, 261), (5.00, 337), (4.99, 320), (3.42, 782), (3.47, 756),
    (3.52, 731), (3.55, 706), (3.30, 773), (3.33, 756), (3.33, 706), (3.36, 689), (3.39, 664),
]

pts_right = [
    (5.66, 857), (5.15, 832), (5.17, 824), (5.25, 790), (5.27, 777), (5.28, 769), (5.29, 761), (5.13, 777),
    (5.46, 756), (5.54, 761), (5.60, 733), (5.40, 716), (5.48, 712), (5.18, 723), (5.19, 710), (5.28, 727),
    (5.29, 714), (5.21, 685), (5.23, 672), (5.29, 693), (5.31, 672), (5.15, 668), (5.17, 647), (5.26, 618),
    (5.69, 698), (5.56, 662), (5.71, 647), (5.74, 630), (5.68, 626), (5.64, 614), (5.83, 664), (5.84, 677),
    (5.94, 702), (5.58, 588), (5.63, 555), (5.68, 546), (5.69, 555), (5.78, 567), (5.88, 584), (5.53, 534),
    (5.11, 580), (5.08, 534), (5.13, 521), (5.25, 521), (5.27, 513), (5.33, 504), (5.38, 479), (5.21, 484),
    (5.28, 484), (5.20, 458), (5.56, 458), (5.58, 446), (5.55, 437), (5.06, 404), (5.05, 379), (5.15, 387),
    (5.21, 370), (5.25, 379), (5.47, 370), (5.38, 337), (5.36, 324), (5.56, 345), (5.59, 353), (5.61, 349),
    (5.10, 324), (5.13, 316), (5.30, 295), (5.31, 290), (5.51, 311), (5.51, 306), (5.06, 295), (5.05, 278),
    (5.25, 253), (5.34, 253), (5.36, 240), (5.46, 244), (5.49, 274), (5.56, 244), (5.63, 253), (5.64, 261),
    (5.68, 282), (5.72, 274), (5.76, 269), (5.79, 265), (5.84, 248), (5.33, 223), (5.41, 198), (5.44, 194),
    (5.47, 194), (5.72, 215), (5.81, 202), (5.93, 244), (5.96, 240), (5.96, 152), (5.87, 337), (5.88, 320),
    (5.96, 630), (6.04, 626), (6.08, 647), (6.03, 618), (5.96, 538), (5.99, 551), (5.98, 525), (6.04, 546),
    (6.10, 572), (6.14, 572), (5.98, 467), (5.93, 429), (5.96, 446), (6.08, 513), (6.04, 395), (6.08, 404),
    (6.03, 387), (6.04, 362), (6.11, 379), (6.04, 345), (6.11, 353), (6.08, 328), (6.11, 320), (6.14, 379),
    (6.13, 362), (6.03, 311), (6.01, 286), (6.04, 278), (6.08, 295), (6.11, 303), (6.04, 261), (6.08, 244),
    (6.11, 227), (6.13, 219), (6.14, 286), (6.18, 269), (5.98, 261), (5.94, 265), (6.04, 202), (6.18, 337),
    (6.21, 328), (6.24, 328), (6.28, 320), (6.31, 316), (6.34, 311), (6.38, 328), (6.41, 311), (6.42, 311),
    (6.21, 278), (6.24, 269), (6.28, 261), (6.31, 253), (6.34, 248), (6.38, 253), (6.13, 215), (6.18, 211),
    (6.19, 496), (6.24, 513), (6.28, 530), (6.31, 546), (6.28, 572), (6.29, 580), (6.33, 588), (6.41, 580),
    (6.26, 454), (6.28, 437), (6.31, 429), (6.36, 446), (6.39, 437), (6.44, 454), (6.46, 404), (6.46, 429),
    (6.31, 479), (6.38, 496), (6.34, 513), (6.39, 500), (6.49, 530), (6.48, 546), (6.46, 563), (6.61, 572),
    (6.31, 202), (6.38, 194), (6.48, 202), (6.50, 211), (6.48, 253), (6.51, 240), (6.54, 236), (6.58, 232),
    (6.54, 471), (6.56, 462), (6.57, 429), (6.61, 421), (6.64, 437), (6.68, 446), (6.69, 454), (6.71, 471),
    (6.74, 479), (6.76, 496), (6.72, 504), (6.69, 513), (6.67, 496), (6.71, 530), (6.57, 362), (6.61, 353),
    (6.64, 345), (6.67, 337), (6.71, 328), (6.74, 320), (6.77, 311), (6.81, 303), (6.84, 295), (6.87, 286),
    (6.91, 282), (6.94, 278), (6.97, 274), (7.01, 269), (7.04, 265), (7.07, 261), (7.11, 257), (6.56, 345),
    (6.61, 328), (6.64, 316), (6.57, 303), (6.61, 286), (6.64, 278), (6.71, 269), (6.77, 261), (6.84, 253),
    (6.91, 244), (6.96, 240), (6.59, 227), (6.64, 223), (6.69, 215), (6.74, 211), (6.81, 206), (6.86, 202),
    (6.87, 202), (6.97, 194), (7.04, 190), (6.67, 530), (6.69, 513), (6.71, 496), (6.72, 479), (6.74, 462),
    (6.76, 446), (6.77, 429), (6.74, 412), (6.76, 395), (6.71, 379), (6.84, 387), (6.86, 353), (6.77, 341),
    (6.87, 479), (6.91, 387), (6.97, 442), (7.06, 425), (7.17, 437), (6.84, 538), (6.97, 362), (7.01, 345),
    (7.04, 337), (7.07, 328), (7.11, 337), (7.14, 345), (7.17, 328), (7.21, 320), (7.24, 311), (7.27, 303),
    (7.31, 295), (7.37, 286), (7.44, 278), (7.50, 269), (7.57, 261), (7.64, 253), (7.70, 244), (7.14, 379),
    (7.17, 395), (7.21, 404), (7.24, 387), (7.26, 370), (7.27, 353), (7.31, 345), (7.34, 328), (7.21, 362),
    (7.24, 295), (7.27, 278), (7.31, 261), (7.34, 244), (7.37, 236), (7.41, 227), (7.44, 219), (7.47, 211),
    (7.50, 202), (7.54, 198), (7.27, 320), (7.31, 311), (7.34, 303), (7.37, 295), (7.41, 286), (7.44, 278),
    (7.47, 269), (7.37, 311), (7.41, 303), (7.44, 295), (7.47, 286), (7.50, 278), (7.54, 295), (7.57, 286),
    (7.60, 278), (7.50, 320), (7.54, 311), (7.57, 328), (7.37, 412), (7.41, 404), (7.44, 395), (7.47, 387),
    (7.50, 379), (7.54, 370), (7.57, 362), (7.60, 353), (7.64, 345), (7.67, 337), (7.70, 328), (7.50, 353),
    (7.52, 345), (7.54, 337), (7.50, 328), (7.52, 311), (7.67, 370), (7.70, 362), (7.74, 353), (7.75, 345),
    (7.77, 328), (7.80, 311), (7.84, 295), (7.87, 278), (7.90, 261), (7.94, 244), (7.94, 227), (7.94, 211),
    (7.94, 194), (7.90, 185), (7.87, 177), (7.80, 185), (7.77, 202), (7.77, 219), (7.57, 278), (7.60, 261),
    (7.64, 244), (7.67, 227), (7.70, 211), (7.74, 202), (7.77, 194), (7.60, 211), (7.62, 194), (7.37, 219),
    (7.41, 211), (7.44, 202), (7.50, 194), (7.57, 198), (7.74, 278), (7.77, 269), (7.80, 261), (7.84, 253),
    (7.87, 244), (7.89, 227), (7.80, 244), (7.77, 227), (7.84, 211), (7.87, 202), (7.90, 194), (7.67, 328),
    (7.69, 311), (7.70, 295), (7.74, 295), (7.77, 278), (7.87, 328), (7.90, 311), (7.89, 353), (6.97, 437),
    (7.04, 425), (7.07, 442), (6.89, 387), (6.92, 332), (6.96, 311), (7.01, 295), (7.04, 286), (7.07, 278),
    (7.11, 269), (7.14, 261), (7.17, 244), (7.21, 236), (7.24, 227), (7.27, 219), (7.31, 211), (7.04, 194),
    (7.05, 190), (7.14, 400), (7.19, 387), (7.24, 379), (6.44, 563), (6.48, 542), (6.46, 534), (6.77, 530),
    (6.81, 534), (6.84, 538), (6.26, 580), (6.29, 572), (6.32, 555), (6.67, 538), (6.69, 530),
]

pts_tail = [
    (8.00, 362), (8.04, 353), (8.05, 328), (8.07, 303), (8.10, 286), (8.14, 278), (8.17, 269), (8.21, 261),
    (8.24, 253), (8.27, 244), (8.31, 261), (8.34, 278), (8.37, 286), (8.40, 278), (8.44, 286), (8.47, 295),
    (8.50, 286), (8.54, 278), (8.57, 269), (8.60, 278), (8.64, 286), (8.67, 278), (8.70, 274), (8.74, 269),
    (8.77, 265), (8.80, 261), (8.84, 257), (8.87, 253), (8.90, 244), (8.94, 253), (8.97, 248), (9.00, 261),
    (9.03, 253), (9.07, 244), (9.10, 253), (9.13, 244), (9.17, 236), (9.20, 244), (9.24, 253), (9.27, 236),
    (9.30, 244), (9.34, 248), (9.37, 253), (9.40, 244), (9.44, 236), (9.47, 244), (9.50, 240), (9.54, 244),
    (9.57, 240), (9.60, 236), (8.05, 318), (8.10, 305), (8.15, 295), (8.20, 290), (8.25, 300), (8.30, 310),
    (8.35, 300), (8.40, 305), (8.45, 310), (8.50, 300), (8.55, 290), (8.62, 300), (8.68, 295), (8.72, 290),
    (8.78, 285), (8.85, 280), (8.90, 270), (8.95, 275), (9.02, 270), (9.08, 265), (9.15, 262), (9.22, 258),
    (9.28, 256), (9.35, 255), (9.42, 252), (9.48, 250), (9.52, 248), (9.58, 250), (8.05, 250), (8.12, 240),
    (8.20, 235), (8.28, 230), (8.35, 245), (8.42, 240), (8.50, 250), (8.58, 245), (8.65, 240), (8.72, 238),
    (8.80, 236), (8.88, 230), (8.95, 228), (9.05, 225), (9.12, 230), (9.20, 228), (9.30, 225), (9.38, 230),
    (9.45, 232), (9.52, 228), (9.58, 230), (8.24, 219), (8.47, 219), (8.80, 223), (8.90, 215), (9.17, 211),
    (9.27, 206), (9.40, 215), (7.99, 353), (8.10, 341), (8.14, 320), (8.25, 324), (8.29, 311), (8.40, 303),
    (8.50, 299), (8.52, 286), (8.70, 278), (8.80, 278), (9.10, 278), (9.17, 269), (9.33, 261), (9.37, 261),
    (9.50, 257), (8.66, 262), (8.68, 250), (8.70, 245), (8.72, 258), (9.42, 240), (9.45, 248), (9.48, 235),
    (9.55, 238), (9.58, 245), (9.52, 252), (9.40, 255), (9.44, 228),
]

scatter_xticks = [1, 2, 3, 4, 5, 6, 7, 8, 9, 10]
scatter_yticks = [0, 200, 400, 600, 800, 1000, 1200, 1400, 1600, 1800]

# ---------------- assemble ----------------
temp, stiff = [], []
for yv, row in dense_rows:
    for xv in row:
        temp.append(xv)
        stiff.append(yv)
for group in (pts_upper_left, pts_second_band, pts_upper_mid, pts_lower_left, pts_mid_right, pts_right, pts_tail):
    for xv, yv in group:
        temp.append(xv)
        stiff.append(yv)

bin_centers = [hist_bin_start + hist_bin_width * (i + 0.5) for i in range(len(hist_counts))]
fit_x = np.linspace(fit_mean - 3 * fit_sd, fit_mean + 3 * fit_sd, 200)
fit_y = n_samples * hist_bin_width * np.exp(-0.5 * ((fit_x - fit_mean) / fit_sd) ** 2) / (fit_sd * np.sqrt(2 * np.pi))


def px(x):
    return x / W


def py(y):
    return 1 - y / H


fig = go.Figure()
fig.add_trace(go.Bar(x=bin_centers, y=hist_counts, width=hist_bin_width,
                     marker=dict(color="#0072BD", line=dict(color="black", width=1.6)),
                     xaxis="x", yaxis="y", showlegend=False, hoverinfo="skip"))
fig.add_trace(go.Scatter(x=fit_x, y=fit_y, mode="lines", line=dict(color="red", width=3.5),
                         xaxis="x", yaxis="y", showlegend=False, hoverinfo="skip"))
fig.add_trace(go.Scatter(x=temp, y=stiff, mode="markers", name="Support Stiffness",
                         marker=dict(symbol="circle-open", size=15, color="black", line=dict(width=2.2)),
                         xaxis="x2", yaxis="y2", showlegend=True))

axis_common = dict(showline=True, linecolor=AX, linewidth=2, ticks="inside", tickcolor=AX, tickwidth=2,
                   showgrid=False, zeroline=False, automargin=False)

fig.update_layout(
    width=W, height=H, margin=dict(l=0, r=0, t=0, b=0, pad=0, autoexpand=False),
    paper_bgcolor="white", plot_bgcolor="white",
    bargap=0,
    xaxis=dict(domain=[px(143), px(1724)], range=[-500, 2000], tickvals=hist_xticks, ticktext=hist_xticklabels,
               mirror="allticks", ticklen=18, anchor="y", ticklabelstandoff=14,
               tickfont=dict(family=SANS, size=38, color=AX), **axis_common),
    yaxis=dict(domain=[py(1152), py(106)], range=[0, 700], tickvals=hist_yticks, mirror="allticks",
               ticklen=18, anchor="x", ticklabelstandoff=10,
               tickfont=dict(family=SANS, size=38, color=AX), **axis_common),
    xaxis2=dict(domain=[px(2059), px(3930)], range=[1, 10], tickvals=scatter_xticks, mirror=False,
                ticklen=20, anchor="y2", ticklabelstandoff=14,
                tickfont=dict(family=SANS, size=40, color=AX), **axis_common),
    yaxis2=dict(domain=[py(1174), py(81)], range=[0, 1800], tickvals=scatter_yticks, mirror=False,
                ticklen=20, anchor="x2", ticklabelstandoff=10,
                tickfont=dict(family=SANS, size=40, color=AX), **axis_common),
    legend=dict(x=px(3914), y=py(100), xanchor="right", yanchor="top",
                bgcolor="white", bordercolor=AX, borderwidth=2,
                font=dict(family=SANS, size=35, color="black")),
)

ann = []
# panel a texts (indices 0..5 are horizontally condensed after rendering, as in the original)
ann.append(dict(text="<b>Support Stiffness Predicted for Bridge 2570</b>", x=px(932), y=py(72),
                font=dict(family=SANS, size=42, color="black")))
ann.append(dict(text="No of Data points", x=px(52), y=py(629), textangle=-90,
                font=dict(family=SANS, size=45, color=AX)))
ann.append(dict(text="Predicted Bearing Stiffness in kN/mm", x=px(932), y=py(1252),
                font=dict(family=SANS, size=42, color=AX)))
for i, line in enumerate(stats_lines):
    ann.append(dict(text=line, x=px(1311), y=py(141 + 42.5 * i), xanchor="left",
                    font=dict(family=SANS, size=30, color="black")))
ann.append(dict(text="(<b>a</b>)", x=px(890), y=py(1386), font=dict(family=SERIF, size=62, color="black")))
# panel b texts
ann.append(dict(text="<b>Predicted Support Stiffness for Bridge 2570 (Near Freezing Temperature)</b>",
                x=px(2994), y=py(46), font=dict(family=SANS, size=41, color="black")))
ann.append(dict(text="Predicted Support Stiffness (kN/mm)", x=px(1932), y=py(627), textangle=-90,
                font=dict(family=SANS, size=46, color=AX)))
ann.append(dict(text="Temperature C", x=px(2994), y=py(1280),
                font=dict(family=SANS, size=40, color=AX)))
ann.append(dict(text="(<b>b</b>)", x=px(2924), y=py(1390), font=dict(family=SERIF, size=62, color="black")))

for a in ann:
    a.setdefault("xanchor", "center")
    a.setdefault("yanchor", "middle")
    a.update(xref="paper", yref="paper", showarrow=False)
fig.update_layout(annotations=ann)

fig.add_shape(type="rect", xref="paper", yref="paper", x0=px(1301), x1=px(1711), y0=py(279), y1=py(112),
              line=dict(color=AX, width=1.5), fillcolor="rgba(255,255,255,0)")

# MATLAB's panel (a) uses a narrow face; emulate it by condensing those text elements horizontally.
post = """
var gd = document.getElementById('{plot_id}');
function sq(el, s, mode) {
  if (!el || el.getAttribute('data-sq')) return;
  var b = el.getBBox();
  var cx = mode === 'left' ? b.x : (mode === 'right' ? b.x + b.width : b.x + b.width / 2);
  var t = el.getAttribute('transform') || '';
  el.setAttribute('transform', t + ' translate(' + cx + ',0) scale(' + s + ',1) translate(' + (-cx) + ',0)');
  el.setAttribute('data-sq', '1');
}
function run() {
  gd.querySelectorAll('g.xtick text').forEach(function (e) { sq(e, 0.82, 'center'); });
  gd.querySelectorAll('g.ytick text').forEach(function (e) { sq(e, 0.82, 'right'); });
  [0, 2].forEach(function (i) { sq(gd.querySelector('g.annotation[data-index="' + i + '"] text'), 0.82, 'center'); });
  [3, 4, 5].forEach(function (i) { sq(gd.querySelector('g.annotation[data-index="' + i + '"] text'), 0.82, 'left'); });
}
run();
setTimeout(run, 100);
setTimeout(run, 500);
if (gd.on) { gd.on('plotly_afterplot', function () { setTimeout(run, 0); }); }
"""

fig.write_html("out.html", post_script=post)
